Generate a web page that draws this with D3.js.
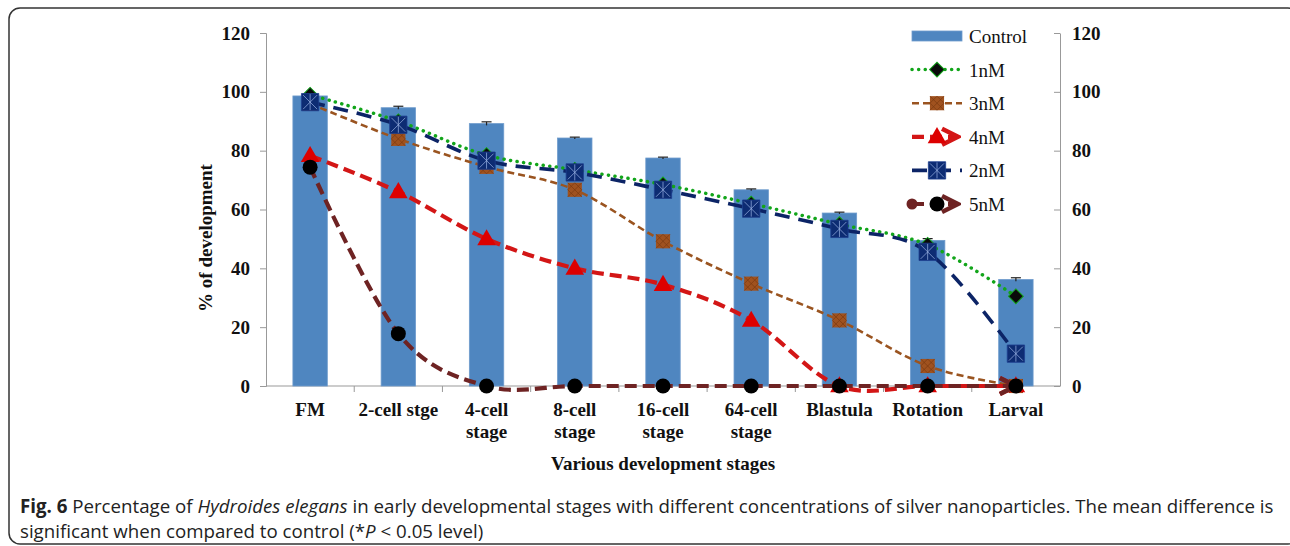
<!DOCTYPE html>
<html>
<head>
<meta charset="utf-8">
<script src="https://cdn.jsdelivr.net/npm/d3@7"></script>
<style>
  body { margin: 0; background: #fff; }
  svg { display: block; }
</style>
</head>
<body>
<div id="chart"></div>
<script>
// data
let stages = ["FM", "2-cell stge", "4-cell stage", "8-cell stage", "16-cell stage", "64-cell stage", "Blastula", "Rotation", "Larval"];
let stageLines = [["FM"], ["2-cell stge"], ["4-cell", "stage"], ["8-cell", "stage"], ["16-cell", "stage"], ["64-cell", "stage"], ["Blastula"], ["Rotation"], ["Larval"]];
let control = [98.6, 94.6, 89.2, 84.3, 77.5, 66.7, 58.8, 49.5, 36.2];
let controlErr = [0.4, 0.5, 0.6, 0.3, 0.3, 0.3, 0.3, 0.6, 0.6];
let nM1 = [99, 90, 78.5, 73.5, 68.5, 62, 55, 48, 30.5];
let nM3 = [96, 84, 74.5, 66.7, 49.2, 34.8, 22.3, 6.8, 0];
let nM4 = [78.3, 66, 50, 40, 34.5, 22.3, 0, 0, 0];
let nM2 = [96.5, 88.8, 76.6, 72.6, 66.7, 60.3, 53.4, 45.6, 11];
let nM5 = [74.4, 17.8, 0, 0, 0, 0, 0, 0, 0];
let yTicks = [0, 20, 40, 60, 80, 100, 120];

let series = [
  { name: "1nM", values: nM1, color: "#12a51a", width: 3.5, dash: "0.1,6.5", cap: "round", marker: "diamond" },
  { name: "3nM", values: nM3, color: "#9a5420", width: 2.6, dash: "7,4", cap: "butt", marker: "hatch" },
  { name: "4nM", values: nM4, color: "#d31616", width: 4.2, dash: "12,6", cap: "butt", marker: "triangle", arrow: true },
  { name: "2nM", values: nM2, color: "#0c2466", width: 3.6, dash: "15,9", cap: "butt", marker: "star" },
  { name: "5nM", values: nM5, color: "#6e2323", width: 4.2, dash: "12,6", cap: "butt", marker: "circle", arrow: true, oval: true }
];

let svgWidth = 1290, svgHeight = 546;
let margin = { top: 33, bottom: 160, left: 266, right: 230 };
let width = svgWidth - margin.left - margin.right;
let height = svgHeight - margin.top - margin.bottom;

let svg = d3.select("#chart").append("svg")
  .attr("width", svgWidth)
  .attr("height", svgHeight);

// frame round the figure
svg.append("rect")
  .attr("x", 9).attr("y", 8)
  .attr("width", 1290).attr("height", 536)
  .attr("rx", 11)
  .attr("fill", "none")
  .attr("stroke", "#333")
  .attr("stroke-width", 1.5);

let defs = svg.append("defs");
series.filter(s => s.arrow).forEach(s => {
  defs.append("marker")
    .attr("id", "arrow" + s.name)
    .attr("viewBox", "0 0 22 22")
    .attr("refX", 19).attr("refY", 11)
    .attr("markerWidth", 22).attr("markerHeight", 22)
    .attr("markerUnits", "userSpaceOnUse")
    .attr("orient", "auto")
    .append("path")
    .attr("d", "M3,3L19,11L3,19")
    .attr("fill", "none")
    .attr("stroke", s.color)
    .attr("stroke-width", 4.5);
});
defs.append("marker")
  .attr("id", "oval")
  .attr("viewBox", "0 0 12 12")
  .attr("refX", 6).attr("refY", 6)
  .attr("markerWidth", 12).attr("markerHeight", 12)
  .attr("markerUnits", "userSpaceOnUse")
  .append("circle")
  .attr("cx", 6).attr("cy", 6).attr("r", 5.5)
  .attr("fill", "#6e2323");

let chartGroup = svg.append("g")
  .attr("transform", `translate(${margin.left}, ${margin.top})`);

let xScale = d3.scaleBand()
  .domain(stages)
  .range([0, width])
  .padding(0);

let yScale = d3.scaleLinear()
  .domain([0, 120])
  .range([height, 0]);

let barW = xScale.bandwidth() * 0.39;
let cx = d => xScale(d) + xScale.bandwidth() / 2;

// axes
let yAxisL = d3.axisLeft(yScale).tickValues(yTicks).tickSize(6).tickPadding(10);
let yAxisR = d3.axisRight(yScale).tickValues(yTicks).tickSize(0).tickPadding(12);

let gl = chartGroup.append("g").call(yAxisL);
let gr = chartGroup.append("g").attr("transform", `translate(${width}, 0)`).call(yAxisR);
gr.selectAll(".tick").append("line").attr("x1", -6).attr("x2", 0).attr("stroke", "#999");

[gl, gr].forEach(g => {
  g.select(".domain").attr("stroke", "#999");
  g.selectAll(".tick line").attr("stroke", "#999");
  g.selectAll("text")
    .attr("font-family", "'Liberation Serif', 'Times New Roman', serif")
    .attr("font-weight", "bold")
    .attr("font-size", "19px")
    .attr("fill", "#111");
});

// x axis
let xAxis = chartGroup.append("g").attr("transform", `translate(0, ${height})`);
xAxis.append("line")
  .attr("x1", 0).attr("x2", width)
  .attr("stroke", "#999");
xAxis.selectAll(".xtick")
  .data(stages.slice(1))
  .enter()
  .append("line")
  .attr("x1", d => xScale(d)).attr("x2", d => xScale(d))
  .attr("y1", 0).attr("y2", 6)
  .attr("stroke", "#999");

xAxis.selectAll(".xlab")
  .data(stages)
  .enter()
  .append("text")
  .attr("x", d => cx(d))
  .attr("y", 30)
  .attr("text-anchor", "middle")
  .attr("font-family", "'Liberation Serif', 'Times New Roman', serif")
  .attr("font-weight", "bold")
  .attr("font-size", "19px")
  .attr("fill", "#111")
  .each(function(d, i) {
    d3.select(this).selectAll("tspan")
      .data(stageLines[i])
      .enter()
      .append("tspan")
      .attr("x", cx(d))
      .attr("dy", (t, j) => j === 0 ? 0 : 22)
      .text(t => t);
  });

// bars
chartGroup.selectAll(".bar")
  .data(stages)
  .enter()
  .append("rect")
  .attr("x", d => cx(d) - barW / 2)
  .attr("y", (d, i) => yScale(control[i]))
  .attr("width", barW)
  .attr("height", (d, i) => height - yScale(control[i]))
  .attr("fill", "#4f86c0")
  .attr("stroke", "#6e9bcc")
  .attr("stroke-width", 0.8);

// error bars
let eb = chartGroup.append("g").attr("stroke", "#222").attr("stroke-width", 1.2);
stages.forEach((d, i) => {
  let x = cx(d);
  let y1 = yScale(control[i] - controlErr[i]), y2 = yScale(control[i] + controlErr[i]);
  eb.append("line").attr("x1", x).attr("x2", x).attr("y1", y1).attr("y2", y2);
  eb.append("line").attr("x1", x - 5).attr("x2", x + 5).attr("y1", y2).attr("y2", y2);
});

function drawMarker(g, type, x, y) {
  let m = g.append("g").attr("transform", `translate(${x}, ${y})`);
  if (type === "diamond") {
    m.append("path")
      .attr("d", d3.symbol(d3.symbolSquare, 110)())
      .attr("transform", "rotate(45)")
      .attr("fill", "#0a0a0a")
      .attr("stroke", "#12a51a")
      .attr("stroke-width", 1);
  } else if (type === "hatch") {
    m.append("path").attr("d", d3.symbol(d3.symbolSquare, 200)()).attr("fill", "#a0521f");
    m.append("path").attr("d", "M-7,-7L7,7M7,-7L-7,7M-7,0L0,-7M0,7L7,0M-7,0L0,7M0,-7L7,0")
      .attr("stroke", "#7a3a10").attr("stroke-width", 0.7).attr("fill", "none");
  } else if (type === "triangle") {
    m.append("path").attr("d", d3.symbol(d3.symbolTriangle, 150)()).attr("fill", "#dd0000")
      .attr("transform", "translate(0, 1)");
  } else if (type === "star") {
    m.append("path").attr("d", d3.symbol(d3.symbolSquare, 300)()).attr("fill", "#0d2c73")
      .attr("stroke", "#1e3f8f").attr("stroke-width", 0.8);
    m.append("path").attr("d", "M-7,-7L7,7M7,-7L-7,7M0,-8V8")
      .attr("stroke", "#9db6e6").attr("stroke-width", 0.7).attr("fill", "none");
  } else if (type === "circle") {
    m.append("circle").attr("r", 7.5).attr("fill", "#000");
  }
}

// lines + markers
let line = d3.line()
  .x((v, i) => cx(stages[i]))
  .y(v => yScale(v))
  .curve(d3.curveCatmullRom.alpha(0));

series.forEach(s => {
  let g = chartGroup.append("g");
  let p = g.append("path")
    .datum(s.values)
    .attr("d", line)
    .attr("fill", "none")
    .attr("stroke", s.color)
    .attr("stroke-width", s.width)
    .attr("stroke-dasharray", s.dash)
    .attr("stroke-linecap", s.cap);
  if (s.arrow) p.attr("marker-end", `url(#arrow${s.name})`);
  if (s.oval) p.attr("marker-start", "url(#oval)");
  s.values.forEach((v, i) => drawMarker(g, s.marker, cx(stages[i]), yScale(v)));
});

// legend
let legend = svg.append("g").attr("transform", "translate(912, 36)");
let legendItems = ["Control"].concat(series.map(s => s.name));
legendItems.forEach((name, i) => {
  let g = legend.append("g").attr("transform", `translate(0, ${i * 33.6})`);
  if (name === "Control") {
    g.append("rect").attr("x", 0).attr("y", -5).attr("width", 50).attr("height", 10)
      .attr("fill", "#4f86c0").attr("stroke", "#6e9bcc").attr("stroke-width", 0.8);
  } else {
    let s = series.find(t => t.name === name);
    let p = g.append("path")
      .attr("d", s.arrow ? "M0,0H46" : "M0,0H50")
      .attr("fill", "none")
      .attr("stroke", s.color)
      .attr("stroke-width", s.width)
      .attr("stroke-dasharray", s.dash)
      .attr("stroke-linecap", s.cap);
    if (s.arrow) p.attr("marker-end", `url(#arrow${s.name})`);
    if (s.oval) p.attr("marker-start", "url(#oval)");
    drawMarker(g, s.marker, 25, 0);
  }
  g.append("text")
    .attr("x", 57).attr("y", 7)
    .attr("font-family", "'Liberation Serif', 'Times New Roman', serif")
    .attr("font-size", "19px")
    .attr("fill", "#111")
    .text(name);
});

// axis titles
chartGroup.append("text")
  .attr("transform", `translate(${205 - margin.left}, ${238 - margin.top}) rotate(-90)`)
  .attr("text-anchor", "middle")
  .attr("dy", "0.35em")
  .attr("font-family", "'Liberation Serif', 'Times New Roman', serif")
  .attr("font-weight", "bold")
  .attr("font-size", "19px")
  .attr("fill", "#111")
  .text("% of development");

chartGroup.append("text")
  .attr("x", width / 2)
  .attr("y", height + 84)
  .attr("text-anchor", "middle")
  .attr("font-family", "'Liberation Serif', 'Times New Roman', serif")
  .attr("font-weight", "bold")
  .attr("font-size", "19px")
  .attr("fill", "#111")
  .text("Various development stages");

// caption
let cap1 = svg.append("text")
  .attr("x", 20).attr("y", 513)
  .attr("font-family", "'Open Sans', sans-serif")
  .attr("font-size", "16px")
  .attr("fill", "#222");
cap1.append("tspan").attr("font-weight", "bold").text("Fig. 6");
cap1.append("tspan").text(" Percentage of ");
cap1.append("tspan").attr("font-style", "italic").text("Hydroides elegans");
cap1.append("tspan").text(" in early developmental stages with different concentrations of silver nanoparticles. The mean difference is");

let cap2 = svg.append("text")
  .attr("x", 20).attr("y", 538)
  .attr("font-family", "'Open Sans', sans-serif")
  .attr("font-size", "16px")
  .attr("fill", "#222");
cap2.append("tspan").text("significant when compared to control (*");
cap2.append("tspan").attr("font-style", "italic").text("P");
cap2.append("tspan").text(" < 0.05 level)");

// fit caption line 1 to the printed width
let w1 = cap1.node().getComputedTextLength();
let fs = 16 * 1255 / w1;
cap1.attr("font-size", fs + "px");
cap2.attr("font-size", fs + "px");
</script>
</body>
</html>
